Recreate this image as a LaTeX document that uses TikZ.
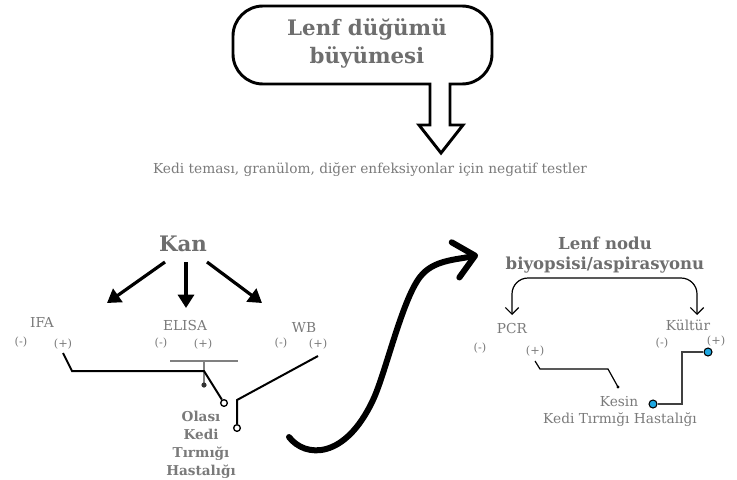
\documentclass[tikz,border=0pt]{standalone}
\usepackage{fontspec}
\setmainfont{DejaVu Serif}
\usetikzlibrary{arrows.meta}
\definecolor{txtgray}{HTML}{7A7A7A}
\definecolor{ttlgray}{HTML}{6E6E6E}
\definecolor{dotcyan}{HTML}{1EA7E1}
\begin{document}
\begin{tikzpicture}[x=0.75pt,y=-0.75pt,
  ttlbig/.style={text=ttlgray,align=center,inner sep=0,font=\bfseries\fontsize{16}{21}\selectfont},
  ttlmid/.style={text=ttlgray,align=center,inner sep=0,font=\bfseries\fontsize{12.4}{15}\selectfont},
  olasi/.style={text=txtgray,align=center,inner sep=0,font=\bfseries\fontsize{10.2}{13.5}\selectfont},
  lbl/.style={text=txtgray,inner sep=0,font=\fontsize{10.3}{12}\selectfont},
  sgn/.style={text=txtgray,inner sep=0,font=\fontsize{8.5}{10}\selectfont},
  kanarrow/.style={line width=2.4pt,-{Triangle[length=10pt,width=12pt]}},
  blk/.style={line width=1.5pt},
  thinblk/.style={line width=0.9pt},
  opendot/.style={circle,draw,fill=white,line width=1pt,inner sep=0,minimum size=5pt},
  cyandot/.style={circle,draw,fill=dotcyan,line width=0.8pt,inner sep=0,minimum size=6pt},
]
\useasboundingbox (0,0) rectangle (737,479);

% callout box with arrow
\draw[line width=2.2pt, fill=white] (430,84) -- (263,84) arc(90:180:30) -- (233,36) arc(180:270:30)
  -- (462,6) arc(270:360:30) -- (492,54) arc(0:90:30) -- (450,84) -- (450,125) -- (463,125)
  -- (441,153) -- (419,125) -- (430,125) -- cycle;
\node[ttlbig] (title) at (367,43) {Lenf düğümü\\büyümesi};

\node[lbl] (neg) at (370,170) {Kedi teması, granülom, diğer enfeksiyonlar için negatif testler};

% Kan
\node[ttlbig] (kan) at (183,244) {Kan};
\coordinate (ks1) at (165,262); \coordinate (ke1) at (107,303);
\coordinate (ks2) at (186,262); \coordinate (ke2) at (186,308);
\coordinate (ks3) at (207,262); \coordinate (ke3) at (262,303);
\draw[kanarrow] (ks1) -- (ke1);
\draw[kanarrow] (ks2) -- (ke2);
\draw[kanarrow] (ks3) -- (ke3);

\node[lbl] (ifa) at (42,322) {IFA};
\node[sgn] (ifan) at (21,342) {(-)};
\node[sgn] (ifap) at (63,344) {(+)};
\node[lbl] (elisa) at (185,325) {ELISA};
\node[sgn] (elisan) at (161,343) {(-)};
\node[sgn] (elisap) at (203,344) {(+)};
\node[lbl] (wb) at (304,327) {WB};
\node[sgn] (wbn) at (281,343) {(-)};
\node[sgn] (wbp) at (318,344) {(+)};

\draw[gray, line width=0.8pt] (170,361) -- (238,361);
\draw[gray, line width=0.8pt] (204,361) -- (204,385);
\fill[black!80] (204,385) circle (2.6);
\node[opendot] (ifaend) at (224,403) {};
\draw[blk] (63,353) -- (72,371) -- (204,371) -- (ifaend);
\node[opendot] (wbend) at (237,428) {};
\draw[blk] (318,356) -- (237,400) -- (wbend);

\node[olasi] (olasi) at (201,445) {Olası\\Kedi\\Tırmığı\\Hastalığı};

% S curve
\coordinate (sstart) at (289,437);
\coordinate (send) at (478,255);
\draw[line width=4.5pt, line cap=round, -{Straight Barb[length=15pt,width=27pt,round]}]
  (sstart) .. controls (305,458) and (345,460) .. (373,400)
  .. controls (385,375) and (402,300) .. (420,277)
  .. controls (433,260) and (455,260) .. (send);

% right part
\node[ttlmid] (lenf) at (605,255) {Lenf nodu\\biyopsisi/aspirasyonu};
\coordinate (pcrtop) at (512,315); \coordinate (kulttop) at (697,315);
\draw[line width=0.9pt, rounded corners=12pt, {Straight Barb[length=5pt,width=10pt]}-{Straight Barb[length=5pt,width=10pt]}]
  (pcrtop) -- (512,278) -- (697,278) -- (kulttop);

\node[lbl] (pcr) at (512,328) {PCR};
\node[sgn] (pcrn) at (480,348) {(-)};
\node[sgn] (pcrp) at (535,351) {(+)};
\node[lbl] (kultur) at (688,325) {Kültür};
\node[sgn] (kn) at (662,343) {(-)};
\node[sgn] (kp) at (716,341) {(+)};

\draw[thinblk] (535,361) -- (540,369) -- (608,369) -- (618,387);
\fill (618,387) circle (1.6);
\node[cyandot] (cd1) at (708,352) {};
\node[cyandot] (cd2) at (653,404) {};
\draw[line width=0.9pt, black!75] (cd1) -- (682,352) -- (682,404) -- (cd2);

\node[lbl] (kesin) at (619,402) {Kesin};
\node[lbl] (kth) at (620,420) {Kedi Tırmığı Hastalığı};
\end{tikzpicture}
\end{document}
